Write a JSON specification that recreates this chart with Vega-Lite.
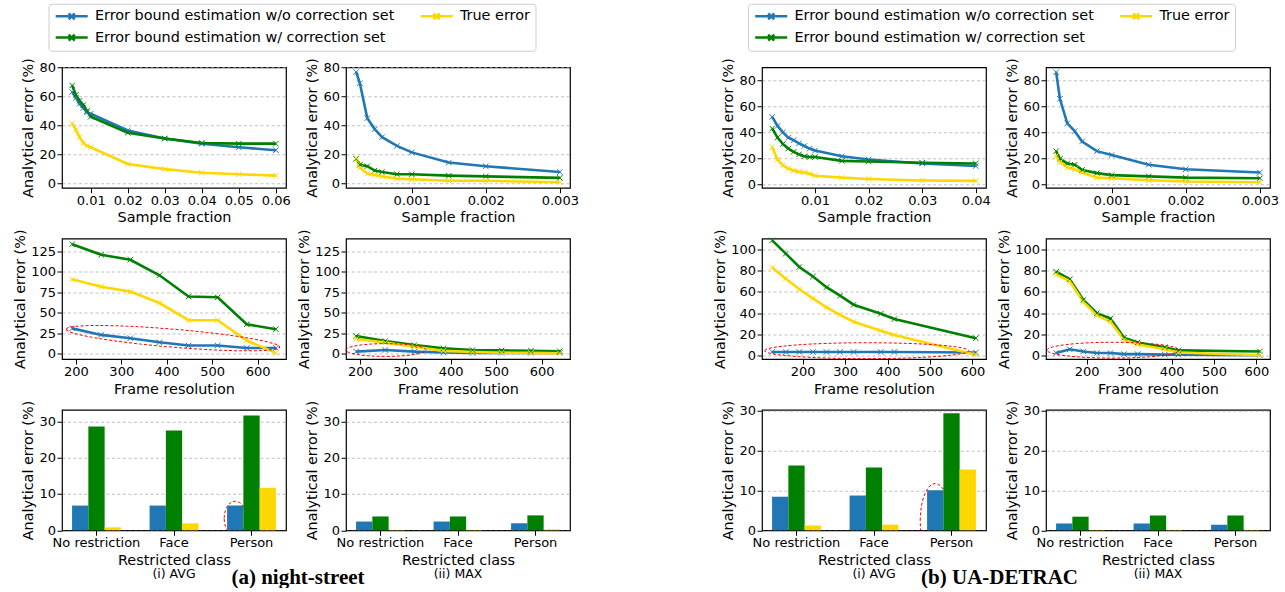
{
"$schema": "https://vega.github.io/schema/vega-lite/v6.json",
"background": "#ffffff",
"padding": {"left": 11, "top": 2, "right": 5, "bottom": 0},
"columns": 5,
"spacing": {"row": 50.25, "column": 60},
"bounds": "flush",
"align": "each",
"resolve": {"scale": {"color": "independent"}, "legend": {"color": "independent"}},
"datasets": {
"a1": [
{"s":"wo","x":0.005,"y":63},{"s":"wo","x":0.006,"y":59},{"s":"wo","x":0.007,"y":55},{"s":"wo","x":0.008,"y":52},{"s":"wo","x":0.009,"y":49},{"s":"wo","x":0.01,"y":48},{"s":"wo","x":0.02,"y":36.5},{"s":"wo","x":0.03,"y":31},{"s":"wo","x":0.04,"y":27.5},{"s":"wo","x":0.05,"y":25},{"s":"wo","x":0.06,"y":23},
{"s":"w","x":0.005,"y":67.5},{"s":"w","x":0.006,"y":61},{"s":"w","x":0.007,"y":57},{"s":"w","x":0.008,"y":54},{"s":"w","x":0.009,"y":50},{"s":"w","x":0.01,"y":46},{"s":"w","x":0.02,"y":35},{"s":"w","x":0.03,"y":31},{"s":"w","x":0.04,"y":28},{"s":"w","x":0.05,"y":27.5},{"s":"w","x":0.06,"y":27.5},
{"s":"true","x":0.005,"y":41.5},{"s":"true","x":0.006,"y":37},{"s":"true","x":0.007,"y":32},{"s":"true","x":0.008,"y":28},{"s":"true","x":0.009,"y":26},{"s":"true","x":0.01,"y":25},{"s":"true","x":0.02,"y":13.5},{"s":"true","x":0.03,"y":10},{"s":"true","x":0.04,"y":7.5},{"s":"true","x":0.05,"y":6.5},{"s":"true","x":0.06,"y":5.5}
],
"a2": [
{"s":"wo","x":0.00025,"y":76.7},{"s":"wo","x":0.0003,"y":69},{"s":"wo","x":0.0004,"y":45},{"s":"wo","x":0.0005,"y":37.5},{"s":"wo","x":0.0006,"y":32},{"s":"wo","x":0.0008,"y":26},{"s":"wo","x":0.001,"y":21.5},{"s":"wo","x":0.0015,"y":14.5},{"s":"wo","x":0.002,"y":12},{"s":"wo","x":0.003,"y":8},
{"s":"w","x":0.00025,"y":17},{"s":"w","x":0.0003,"y":13},{"s":"w","x":0.0004,"y":12},{"s":"w","x":0.0005,"y":9},{"s":"w","x":0.0006,"y":8},{"s":"w","x":0.0008,"y":6.5},{"s":"w","x":0.001,"y":6.5},{"s":"w","x":0.0015,"y":5.5},{"s":"w","x":0.002,"y":5},{"s":"w","x":0.003,"y":4},
{"s":"true","x":0.00025,"y":17.5},{"s":"true","x":0.0003,"y":11},{"s":"true","x":0.0004,"y":7},{"s":"true","x":0.0005,"y":6},{"s":"true","x":0.0006,"y":5},{"s":"true","x":0.0008,"y":3.5},{"s":"true","x":0.001,"y":3},{"s":"true","x":0.0015,"y":2},{"s":"true","x":0.002,"y":2},{"s":"true","x":0.003,"y":1}
],
"a3": [
{"s":"wo","x":192,"y":31},{"s":"wo","x":256,"y":23},{"s":"wo","x":320,"y":19},{"s":"wo","x":384,"y":14},{"s":"wo","x":448,"y":10},{"s":"wo","x":512,"y":10},{"s":"wo","x":576,"y":7},{"s":"wo","x":640,"y":7},
{"s":"w","x":192,"y":134},{"s":"w","x":256,"y":121},{"s":"w","x":320,"y":115},{"s":"w","x":384,"y":96},{"s":"w","x":448,"y":70},{"s":"w","x":512,"y":69},{"s":"w","x":576,"y":36},{"s":"w","x":640,"y":30},
{"s":"true","x":192,"y":91},{"s":"true","x":256,"y":82},{"s":"true","x":320,"y":76},{"s":"true","x":384,"y":62},{"s":"true","x":448,"y":41},{"s":"true","x":512,"y":41},{"s":"true","x":576,"y":16},{"s":"true","x":640,"y":1}
],
"a4": [
{"s":"wo","x":192,"y":2.5},{"s":"wo","x":256,"y":4.5},{"s":"wo","x":320,"y":2.5},{"s":"wo","x":384,"y":1.5},{"s":"wo","x":448,"y":1},{"s":"wo","x":512,"y":1},{"s":"wo","x":576,"y":1},{"s":"wo","x":640,"y":1},
{"s":"w","x":192,"y":21.5},{"s":"w","x":256,"y":15.5},{"s":"w","x":320,"y":10.5},{"s":"w","x":384,"y":6.5},{"s":"w","x":448,"y":4.5},{"s":"w","x":512,"y":4},{"s":"w","x":576,"y":3.5},{"s":"w","x":640,"y":3},
{"s":"true","x":192,"y":18},{"s":"true","x":256,"y":13.5},{"s":"true","x":320,"y":8.5},{"s":"true","x":384,"y":3.5},{"s":"true","x":448,"y":2},{"s":"true","x":512,"y":1.2},{"s":"true","x":576,"y":1},{"s":"true","x":640,"y":0.5}
],
"b1": [
{"s":"wo","x":0.002,"y":52},{"s":"wo","x":0.003,"y":45},{"s":"wo","x":0.004,"y":40},{"s":"wo","x":0.005,"y":36},{"s":"wo","x":0.006,"y":34},{"s":"wo","x":0.007,"y":31.5},{"s":"wo","x":0.008,"y":29.5},{"s":"wo","x":0.009,"y":27.5},{"s":"wo","x":0.01,"y":26},{"s":"wo","x":0.015,"y":21.5},{"s":"wo","x":0.02,"y":19},{"s":"wo","x":0.03,"y":16},{"s":"wo","x":0.04,"y":14},
{"s":"w","x":0.002,"y":43},{"s":"w","x":0.003,"y":36},{"s":"w","x":0.004,"y":31},{"s":"w","x":0.005,"y":27.5},{"s":"w","x":0.006,"y":25},{"s":"w","x":0.007,"y":23},{"s":"w","x":0.008,"y":21.5},{"s":"w","x":0.009,"y":21},{"s":"w","x":0.01,"y":21},{"s":"w","x":0.015,"y":18},{"s":"w","x":0.02,"y":17.5},{"s":"w","x":0.03,"y":16.5},{"s":"w","x":0.04,"y":16},
{"s":"true","x":0.002,"y":28.5},{"s":"true","x":0.003,"y":19},{"s":"true","x":0.004,"y":14.5},{"s":"true","x":0.005,"y":12},{"s":"true","x":0.006,"y":10.5},{"s":"true","x":0.007,"y":9.5},{"s":"true","x":0.008,"y":9},{"s":"true","x":0.009,"y":8},{"s":"true","x":0.01,"y":6.5},{"s":"true","x":0.015,"y":5},{"s":"true","x":0.02,"y":4},{"s":"true","x":0.03,"y":2.8},{"s":"true","x":0.04,"y":2.5}
],
"b2": [
{"s":"wo","x":0.00025,"y":86.5},{"s":"wo","x":0.0003,"y":66},{"s":"wo","x":0.0004,"y":47},{"s":"wo","x":0.0005,"y":41},{"s":"wo","x":0.0006,"y":33},{"s":"wo","x":0.0008,"y":25.5},{"s":"wo","x":0.001,"y":22.5},{"s":"wo","x":0.0015,"y":15},{"s":"wo","x":0.002,"y":11.5},{"s":"wo","x":0.003,"y":9},
{"s":"w","x":0.00025,"y":25.5},{"s":"w","x":0.0003,"y":19.5},{"s":"w","x":0.0004,"y":16},{"s":"w","x":0.0005,"y":15},{"s":"w","x":0.0006,"y":11},{"s":"w","x":0.0008,"y":8.5},{"s":"w","x":0.001,"y":7},{"s":"w","x":0.0015,"y":6},{"s":"w","x":0.002,"y":5},{"s":"w","x":0.003,"y":4.5},
{"s":"true","x":0.00025,"y":22},{"s":"true","x":0.0003,"y":17},{"s":"true","x":0.0004,"y":13},{"s":"true","x":0.0005,"y":11.5},{"s":"true","x":0.0006,"y":9},{"s":"true","x":0.0008,"y":5},{"s":"true","x":0.001,"y":4.5},{"s":"true","x":0.0015,"y":3},{"s":"true","x":0.002,"y":2},{"s":"true","x":0.003,"y":1.5}
],
"b3": [
{"s":"wo","x":128,"y":3.5},{"s":"wo","x":160,"y":3.5},{"s":"wo","x":192,"y":3.5},{"s":"wo","x":224,"y":3.5},{"s":"wo","x":256,"y":3.5},{"s":"wo","x":288,"y":3.5},{"s":"wo","x":320,"y":3.5},{"s":"wo","x":384,"y":3.5},{"s":"wo","x":416,"y":3.5},{"s":"wo","x":608,"y":3},
{"s":"w","x":128,"y":108.5},{"s":"w","x":160,"y":96},{"s":"w","x":192,"y":83.5},{"s":"w","x":224,"y":74.5},{"s":"w","x":256,"y":64.5},{"s":"w","x":288,"y":56.5},{"s":"w","x":320,"y":48},{"s":"w","x":384,"y":39.5},{"s":"w","x":416,"y":34.5},{"s":"w","x":608,"y":16.5},
{"s":"true","x":128,"y":83},{"s":"true","x":160,"y":72.5},{"s":"true","x":192,"y":62.5},{"s":"true","x":224,"y":54},{"s":"true","x":256,"y":45.5},{"s":"true","x":288,"y":38.5},{"s":"true","x":320,"y":32},{"s":"true","x":384,"y":23.5},{"s":"true","x":416,"y":19.5},{"s":"true","x":608,"y":1}
],
"b4": [
{"s":"wo","x":128,"y":2.5},{"s":"wo","x":160,"y":6},{"s":"wo","x":192,"y":4},{"s":"wo","x":224,"y":2.5},{"s":"wo","x":256,"y":2.5},{"s":"wo","x":288,"y":1.5},{"s":"wo","x":320,"y":1.5},{"s":"wo","x":384,"y":1},{"s":"wo","x":416,"y":1},{"s":"wo","x":608,"y":0.5},
{"s":"w","x":128,"y":79},{"s":"w","x":160,"y":72},{"s":"w","x":192,"y":52.5},{"s":"w","x":224,"y":40},{"s":"w","x":256,"y":35},{"s":"w","x":288,"y":17},{"s":"w","x":320,"y":12.5},{"s":"w","x":384,"y":8},{"s":"w","x":416,"y":5},{"s":"w","x":608,"y":4},
{"s":"true","x":128,"y":76.5},{"s":"true","x":160,"y":70},{"s":"true","x":192,"y":50.5},{"s":"true","x":224,"y":38},{"s":"true","x":256,"y":32},{"s":"true","x":288,"y":15},{"s":"true","x":320,"y":10.5},{"s":"true","x":384,"y":6},{"s":"true","x":416,"y":3},{"s":"true","x":608,"y":0.5}
],
"a5": [{"c":"No restriction","s":"wo","v":6.8},{"c":"No restriction","s":"w","v":28.6},{"c":"No restriction","s":"true","v":0.8},{"c":"Face","s":"wo","v":6.8},{"c":"Face","s":"w","v":27.5},{"c":"Face","s":"true","v":1.9},{"c":"Person","s":"wo","v":6.8},{"c":"Person","s":"w","v":31.6},{"c":"Person","s":"true","v":11.7}],
"a6": [{"c":"No restriction","s":"wo","v":2.4},{"c":"No restriction","s":"w","v":3.8},{"c":"No restriction","s":"true","v":0.1},{"c":"Face","s":"wo","v":2.4},{"c":"Face","s":"w","v":3.8},{"c":"Face","s":"true","v":0.1},{"c":"Person","s":"wo","v":1.9},{"c":"Person","s":"w","v":4.1},{"c":"Person","s":"true","v":0.25}],
"b5": [{"c":"No restriction","s":"wo","v":8.4},{"c":"No restriction","s":"w","v":16.2},{"c":"No restriction","s":"true","v":1.2},{"c":"Face","s":"wo","v":8.7},{"c":"Face","s":"w","v":15.7},{"c":"Face","s":"true","v":1.4},{"c":"Person","s":"wo","v":10.0},{"c":"Person","s":"w","v":29.3},{"c":"Person","s":"true","v":15.2}],
"b6": [{"c":"No restriction","s":"wo","v":1.7},{"c":"No restriction","s":"w","v":3.4},{"c":"No restriction","s":"true","v":0.1},{"c":"Face","s":"wo","v":1.7},{"c":"Face","s":"w","v":3.7},{"c":"Face","s":"true","v":0.1},{"c":"Person","s":"wo","v":1.4},{"c":"Person","s":"w","v":3.7},{"c":"Person","s":"true","v":0.1}]
},
"concat": [
{"width": 224, "height": 1, "view": {"stroke": null}, "data": {"values": [{}]}, "mark": "text", "encoding": {"text": {"value": ""}}},
{"width": 224, "height": 1, "view": {"stroke": null}, "data": {"values": [{}]}, "mark": "text", "encoding": {"text": {"value": ""}}},
{"width": 72, "height": 1, "view": {"stroke": null}, "data": {"values": [{}]}, "mark": "text", "encoding": {"text": {"value": ""}}},
{"width": 224, "height": 1, "view": {"stroke": null}, "data": {"values": [{}]}, "mark": "text", "encoding": {"text": {"value": ""}}},
{"width": 224, "height": 1, "view": {"stroke": null}, "data": {"values": [{}]}, "mark": "text", "encoding": {"text": {"value": ""}}},

{"width": 224, "height": 120.5, "data": {"name": "a1"},
 "encoding": {
  "x": {"field": "x", "type": "quantitative", "scale": {"domain": [0.00225, 0.06275], "nice": false, "zero": false}, "axis": {"title": "Sample fraction", "values": [0.01, 0.02, 0.03, 0.04, 0.05, 0.06], "format": "~g"}},
  "y": {"field": "y", "type": "quantitative", "scale": {"domain": [-2.8, 80], "nice": false, "zero": false}, "axis": {"title": "Analytical error (%)", "values": [0, 20, 40, 60, 80]}}},
 "layer": [
  {"mark": {"type": "line", "strokeWidth": 2.6}, "encoding": {"color": {"field": "s", "type": "nominal", "scale": {"domain": ["wo", "w", "true"], "range": ["#1f77b4", "#008000", "#ffd700"]},
    "legend": {"orient": "none", "legendX": -13.5, "legendY": -63.5, "columns": 2, "title": null, "labelExpr": "datum.label == 'wo' ? 'Error bound estimation w/o correction set' : datum.label == 'w' ? 'Error bound estimation w/ correction set' : 'True error'", "symbolType": "M-1,0L5.4,0M1.6,-0.6L2.8,0.6M1.6,0.6L2.8,-0.6", "symbolSize": 100, "symbolStrokeWidth": 2.5, "symbolOpacity": 1, "labelFont": "DejaVu Sans", "labelFontSize": 14.4, "labelColor": "#000000", "labelLimit": 600, "labelOffset": 27, "columnPadding": 21, "rowPadding": 4.6, "padding": 5, "strokeColor": "#cccccc", "fillColor": "#ffffff", "cornerRadius": 3}}}},
  {"mark": {"type": "point", "shape": "M-1,-1L1,1M-1,1L1,-1", "size": 30, "filled": false, "strokeWidth": 1, "opacity": 1}, "encoding": {"color": {"field": "s", "type": "nominal", "scale": {"domain": ["wo", "w", "true"], "range": ["#1f77b4", "#008000", "#ffd700"]}, "legend": null}}}
 ]},
{"width": 224, "height": 120.5, "data": {"name": "a2"},
 "encoding": {
  "x": {"field": "x", "type": "quantitative", "scale": {"domain": [0.0001125, 0.0031375], "nice": false, "zero": false}, "axis": {"title": "Sample fraction", "values": [0.001, 0.002, 0.003], "format": "~g"}},
  "y": {"field": "y", "type": "quantitative", "scale": {"domain": [-2.8, 80], "nice": false, "zero": false}, "axis": {"title": "Analytical error (%)", "values": [0, 20, 40, 60, 80]}}},
 "layer": [
  {"mark": {"type": "line", "strokeWidth": 2.6}, "encoding": {"color": {"field": "s", "type": "nominal", "scale": {"domain": ["wo", "w", "true"], "range": ["#1f77b4", "#008000", "#ffd700"]}, "legend": null}}},
  {"mark": {"type": "point", "shape": "M-1,-1L1,1M-1,1L1,-1", "size": 30, "filled": false, "strokeWidth": 1, "opacity": 1}, "encoding": {"color": {"field": "s", "type": "nominal", "scale": {"domain": ["wo", "w", "true"], "range": ["#1f77b4", "#008000", "#ffd700"]}, "legend": null}}}
 ]},
{"width": 72, "height": 120.5, "view": {"stroke": null}, "data": {"values": [{}]}, "mark": "text", "encoding": {"text": {"value": ""}}},
{"width": 224, "height": 120.5, "data": {"name": "b1"},
 "encoding": {
  "x": {"field": "x", "type": "quantitative", "scale": {"domain": [0.0001, 0.0419], "nice": false, "zero": false}, "axis": {"title": "Sample fraction", "values": [0.01, 0.02, 0.03, 0.04], "format": "~g"}},
  "y": {"field": "y", "type": "quantitative", "scale": {"domain": [-2.8, 90.4], "nice": false, "zero": false}, "axis": {"title": "Analytical error (%)", "values": [0, 20, 40, 60, 80]}}},
 "layer": [
  {"mark": {"type": "line", "strokeWidth": 2.6}, "encoding": {"color": {"field": "s", "type": "nominal", "scale": {"domain": ["wo", "w", "true"], "range": ["#1f77b4", "#008000", "#ffd700"]},
    "legend": {"orient": "none", "legendX": -14, "legendY": -63.5, "columns": 2, "title": null, "labelExpr": "datum.label == 'wo' ? 'Error bound estimation w/o correction set' : datum.label == 'w' ? 'Error bound estimation w/ correction set' : 'True error'", "symbolType": "M-1,0L5.4,0M1.6,-0.6L2.8,0.6M1.6,0.6L2.8,-0.6", "symbolSize": 100, "symbolStrokeWidth": 2.5, "symbolOpacity": 1, "labelFont": "DejaVu Sans", "labelFontSize": 14.4, "labelColor": "#000000", "labelLimit": 600, "labelOffset": 27, "columnPadding": 21, "rowPadding": 4.6, "padding": 5, "strokeColor": "#cccccc", "fillColor": "#ffffff", "cornerRadius": 3}}}},
  {"mark": {"type": "point", "shape": "M-1,-1L1,1M-1,1L1,-1", "size": 30, "filled": false, "strokeWidth": 1, "opacity": 1}, "encoding": {"color": {"field": "s", "type": "nominal", "scale": {"domain": ["wo", "w", "true"], "range": ["#1f77b4", "#008000", "#ffd700"]}, "legend": null}}}
 ]},
{"width": 224, "height": 120.5, "data": {"name": "b2"},
 "encoding": {
  "x": {"field": "x", "type": "quantitative", "scale": {"domain": [0.0001125, 0.0031375], "nice": false, "zero": false}, "axis": {"title": "Sample fraction", "values": [0.001, 0.002, 0.003], "format": "~g"}},
  "y": {"field": "y", "type": "quantitative", "scale": {"domain": [-2.8, 90.4], "nice": false, "zero": false}, "axis": {"title": "Analytical error (%)", "values": [0, 20, 40, 60, 80]}}},
 "layer": [
  {"mark": {"type": "line", "strokeWidth": 2.6}, "encoding": {"color": {"field": "s", "type": "nominal", "scale": {"domain": ["wo", "w", "true"], "range": ["#1f77b4", "#008000", "#ffd700"]}, "legend": null}}},
  {"mark": {"type": "point", "shape": "M-1,-1L1,1M-1,1L1,-1", "size": 30, "filled": false, "strokeWidth": 1, "opacity": 1}, "encoding": {"color": {"field": "s", "type": "nominal", "scale": {"domain": ["wo", "w", "true"], "range": ["#1f77b4", "#008000", "#ffd700"]}, "legend": null}}}
 ]},

{"width": 224, "height": 120.5, "data": {"name": "a3"},
 "encoding": {
  "x": {"field": "x", "type": "quantitative", "scale": {"domain": [169.6, 662.4], "nice": false, "zero": false}, "axis": {"title": "Frame resolution", "values": [200, 300, 400, 500, 600]}},
  "y": {"field": "y", "type": "quantitative", "scale": {"domain": [-6.5, 141], "nice": false, "zero": false}, "axis": {"title": "Analytical error (%)", "values": [0, 25, 50, 75, 100, 125]}}},
 "layer": [
  {"mark": {"type": "line", "strokeWidth": 2.6}, "encoding": {"color": {"field": "s", "type": "nominal", "scale": {"domain": ["wo", "w", "true"], "range": ["#1f77b4", "#008000", "#ffd700"]}, "legend": null}}},
  {"mark": {"type": "point", "shape": "M-1,-1L1,1M-1,1L1,-1", "size": 30, "filled": false, "strokeWidth": 1, "opacity": 1}, "encoding": {"color": {"field": "s", "type": "nominal", "scale": {"domain": ["wo", "w", "true"], "range": ["#1f77b4", "#008000", "#ffd700"]}, "legend": null}}},
  {"data": {"values": [{"x": 413.8, "y": 19}]}, "mark": {"type": "point", "shape": "M-1,0C-1,-0.0464 -0.5523,-0.084 0,-0.084C0.5523,-0.084 1,-0.0464 1,0C1,0.0464 0.5523,0.084 0,0.084C-0.5523,0.084 -1,0.0464 -1,0Z", "size": 45796, "angle": 4.8, "filled": false, "stroke": "#ff0000", "strokeWidth": 1, "strokeDash": [3, 2], "opacity": 1}}
 ]},
{"width": 224, "height": 120.5, "data": {"name": "a4"},
 "encoding": {
  "x": {"field": "x", "type": "quantitative", "scale": {"domain": [169.6, 662.4], "nice": false, "zero": false}, "axis": {"title": "Frame resolution", "values": [200, 300, 400, 500, 600]}},
  "y": {"field": "y", "type": "quantitative", "scale": {"domain": [-6.5, 141], "nice": false, "zero": false}, "axis": {"title": "Analytical error (%)", "values": [0, 25, 50, 75, 100, 125]}}},
 "layer": [
  {"mark": {"type": "line", "strokeWidth": 2.6}, "encoding": {"color": {"field": "s", "type": "nominal", "scale": {"domain": ["wo", "w", "true"], "range": ["#1f77b4", "#008000", "#ffd700"]}, "legend": null}}},
  {"mark": {"type": "point", "shape": "M-1,-1L1,1M-1,1L1,-1", "size": 30, "filled": false, "strokeWidth": 1, "opacity": 1}, "encoding": {"color": {"field": "s", "type": "nominal", "scale": {"domain": ["wo", "w", "true"], "range": ["#1f77b4", "#008000", "#ffd700"]}, "legend": null}}},
  {"data": {"values": [{"x": 257, "y": 4.5}]}, "mark": {"type": "point", "shape": "M-1,0C-1,-0.0884 -0.5523,-0.16 0,-0.16C0.5523,-0.16 1,-0.0884 1,0C1,0.0884 0.5523,0.16 0,0.16C-0.5523,0.16 -1,0.0884 -1,0Z", "size": 6400, "filled": false, "stroke": "#ff0000", "strokeWidth": 1, "strokeDash": [3, 2], "opacity": 1}}
 ]},
{"width": 72, "height": 120.5, "view": {"stroke": null}, "data": {"values": [{}]}, "mark": "text", "encoding": {"text": {"value": ""}}},
{"width": 224, "height": 120.5, "data": {"name": "b3"},
 "encoding": {
  "x": {"field": "x", "type": "quantitative", "scale": {"domain": [104, 632], "nice": false, "zero": false}, "axis": {"title": "Frame resolution", "values": [200, 300, 400, 500, 600]}},
  "y": {"field": "y", "type": "quantitative", "scale": {"domain": [-3.1, 110.3], "nice": false, "zero": false}, "axis": {"title": "Analytical error (%)", "values": [0, 20, 40, 60, 80, 100]}}},
 "layer": [
  {"mark": {"type": "line", "strokeWidth": 2.6}, "encoding": {"color": {"field": "s", "type": "nominal", "scale": {"domain": ["wo", "w", "true"], "range": ["#1f77b4", "#008000", "#ffd700"]}, "legend": null}}},
  {"mark": {"type": "point", "shape": "M-1,-1L1,1M-1,1L1,-1", "size": 30, "filled": false, "strokeWidth": 1, "opacity": 1}, "encoding": {"color": {"field": "s", "type": "nominal", "scale": {"domain": ["wo", "w", "true"], "range": ["#1f77b4", "#008000", "#ffd700"]}, "legend": null}}},
  {"data": {"values": [{"x": 350.8, "y": 4.7}]}, "mark": {"type": "point", "shape": "M-1,0C-1,-0.0431 -0.5523,-0.078 0,-0.078C0.5523,-0.078 1,-0.0431 1,0C1,0.0431 0.5523,0.078 0,0.078C-0.5523,0.078 -1,0.0431 -1,0Z", "size": 41616, "filled": false, "stroke": "#ff0000", "strokeWidth": 1, "strokeDash": [3, 2], "opacity": 1}}
 ]},
{"width": 224, "height": 120.5, "data": {"name": "b4"},
 "encoding": {
  "x": {"field": "x", "type": "quantitative", "scale": {"domain": [104, 632], "nice": false, "zero": false}, "axis": {"title": "Frame resolution", "values": [200, 300, 400, 500, 600]}},
  "y": {"field": "y", "type": "quantitative", "scale": {"domain": [-3.1, 110.3], "nice": false, "zero": false}, "axis": {"title": "Analytical error (%)", "values": [0, 20, 40, 60, 80, 100]}}},
 "layer": [
  {"mark": {"type": "line", "strokeWidth": 2.6}, "encoding": {"color": {"field": "s", "type": "nominal", "scale": {"domain": ["wo", "w", "true"], "range": ["#1f77b4", "#008000", "#ffd700"]}, "legend": null}}},
  {"mark": {"type": "point", "shape": "M-1,-1L1,1M-1,1L1,-1", "size": 30, "filled": false, "strokeWidth": 1, "opacity": 1}, "encoding": {"color": {"field": "s", "type": "nominal", "scale": {"domain": ["wo", "w", "true"], "range": ["#1f77b4", "#008000", "#ffd700"]}, "legend": null}}},
  {"data": {"values": [{"x": 262, "y": 5.2}]}, "mark": {"type": "point", "shape": "M-1,0C-1,-0.0663 -0.5523,-0.12 0,-0.12C0.5523,-0.12 1,-0.0663 1,0C1,0.0663 0.5523,0.12 0,0.12C-0.5523,0.12 -1,0.0663 -1,0Z", "size": 17424, "filled": false, "stroke": "#ff0000", "strokeWidth": 1, "strokeDash": [3, 2], "opacity": 1}}
 ]},

{"width": 224, "height": 120.5,
 "title": {"text": "(i) AVG", "orient": "bottom", "offset": 1.5, "font": "DejaVu Sans", "fontSize": 12.5, "fontWeight": "normal", "color": "#000000", "anchor": "middle"},
 "encoding": {
  "x": {"field": "c", "type": "nominal", "scale": {"domain": ["No restriction", "Face", "Person"], "paddingInner": 0.37, "paddingOuter": 0.13}, "axis": {"title": "Restricted class", "labelAngle": 0, "bandPosition": 0.5}},
  "xOffset": {"field": "s", "type": "nominal", "scale": {"domain": ["wo", "w", "true"], "paddingInner": 0, "paddingOuter": 0}},
  "y": {"field": "v", "type": "quantitative", "scale": {"domain": [0, 33.2], "nice": false, "zero": false}, "axis": {"title": "Analytical error (%)", "values": [0, 10, 20, 30]}}},
 "layer": [
  {"data": {"values": [{"c": "Person", "s": "wo", "v": 3.3}]}, "mark": {"type": "point", "shape": "M-0.65,0C-0.65,-0.5523 -0.359,-1 0,-1C0.359,-1 0.65,-0.5523 0.65,0C0.65,0.5523 0.359,1 0,1C-0.359,1 -0.65,0.5523 -0.65,0Z", "size": 1156, "filled": false, "stroke": "#ff0000", "strokeWidth": 1, "strokeDash": [3, 2], "opacity": 1, "clip": true}},
  {"data": {"name": "a5"}, "mark": {"type": "bar"}, "encoding": {"color": {"field": "s", "type": "nominal", "scale": {"domain": ["wo", "w", "true"], "range": ["#1f77b4", "#008000", "#ffd700"]}, "legend": null}}}
 ]},
{"width": 224, "height": 120.5,
 "title": {"text": "(ii) MAX", "orient": "bottom", "offset": 1.5, "font": "DejaVu Sans", "fontSize": 12.5, "fontWeight": "normal", "color": "#000000", "anchor": "middle"},
 "data": {"name": "a6"},
 "mark": {"type": "bar"},
 "encoding": {
  "x": {"field": "c", "type": "nominal", "scale": {"domain": ["No restriction", "Face", "Person"], "paddingInner": 0.37, "paddingOuter": 0.13}, "axis": {"title": "Restricted class", "labelAngle": 0, "bandPosition": 0.5}},
  "xOffset": {"field": "s", "type": "nominal", "scale": {"domain": ["wo", "w", "true"], "paddingInner": 0, "paddingOuter": 0}},
  "y": {"field": "v", "type": "quantitative", "scale": {"domain": [0, 33.2], "nice": false, "zero": false}, "axis": {"title": "Analytical error (%)", "values": [0, 10, 20, 30]}},
  "color": {"field": "s", "type": "nominal", "scale": {"domain": ["wo", "w", "true"], "range": ["#1f77b4", "#008000", "#ffd700"]}, "legend": null}}},
{"width": 72, "height": 120.5, "view": {"stroke": null}, "data": {"values": [{}]}, "mark": "text", "encoding": {"text": {"value": ""}}},
{"width": 224, "height": 120.5,
 "title": {"text": "(i) AVG", "orient": "bottom", "offset": 1.5, "font": "DejaVu Sans", "fontSize": 12.5, "fontWeight": "normal", "color": "#000000", "anchor": "middle"},
 "encoding": {
  "x": {"field": "c", "type": "nominal", "scale": {"domain": ["No restriction", "Face", "Person"], "paddingInner": 0.37, "paddingOuter": 0.13}, "axis": {"title": "Restricted class", "labelAngle": 0, "bandPosition": 0.5}},
  "xOffset": {"field": "s", "type": "nominal", "scale": {"domain": ["wo", "w", "true"], "paddingInner": 0, "paddingOuter": 0}},
  "y": {"field": "v", "type": "quantitative", "scale": {"domain": [0, 30.2], "nice": false, "zero": false}, "axis": {"title": "Analytical error (%)", "values": [0, 10, 20, 30]}}},
 "layer": [
  {"data": {"values": [{"c": "Person", "s": "wo", "v": 2.4}]}, "mark": {"type": "point", "shape": "M-0.405,0C-0.405,-0.5523 -0.2237,-1 0,-1C0.2237,-1 0.405,-0.5523 0.405,0C0.405,0.5523 0.2237,1 0,1C-0.2237,1 -0.405,0.5523 -0.405,0Z", "size": 5476, "filled": false, "stroke": "#ff0000", "strokeWidth": 1, "strokeDash": [3, 2], "opacity": 1, "clip": true}},
  {"data": {"name": "b5"}, "mark": {"type": "bar"}, "encoding": {"color": {"field": "s", "type": "nominal", "scale": {"domain": ["wo", "w", "true"], "range": ["#1f77b4", "#008000", "#ffd700"]}, "legend": null}}}
 ]},
{"width": 224, "height": 120.5,
 "title": {"text": "(ii) MAX", "orient": "bottom", "offset": 1.5, "font": "DejaVu Sans", "fontSize": 12.5, "fontWeight": "normal", "color": "#000000", "anchor": "middle"},
 "data": {"name": "b6"},
 "mark": {"type": "bar"},
 "encoding": {
  "x": {"field": "c", "type": "nominal", "scale": {"domain": ["No restriction", "Face", "Person"], "paddingInner": 0.37, "paddingOuter": 0.13}, "axis": {"title": "Restricted class", "labelAngle": 0, "bandPosition": 0.5}},
  "xOffset": {"field": "s", "type": "nominal", "scale": {"domain": ["wo", "w", "true"], "paddingInner": 0, "paddingOuter": 0}},
  "y": {"field": "v", "type": "quantitative", "scale": {"domain": [0, 30.2], "nice": false, "zero": false}, "axis": {"title": "Analytical error (%)", "values": [0, 10, 20, 30]}},
  "color": {"field": "s", "type": "nominal", "scale": {"domain": ["wo", "w", "true"], "range": ["#1f77b4", "#008000", "#ffd700"]}, "legend": null}}},

{"width": 224, "height": 1, "view": {"stroke": null}, "data": {"values": [{}]}, "mark": "text", "encoding": {"text": {"value": ""}},
 "title": {"text": "(a) night-street", "orient": "top", "frame": "group", "offset": -12.3, "dx": 124, "font": "Liberation Serif", "fontSize": 21, "fontWeight": "bold", "color": "#000000", "anchor": "middle"}},
{"width": 224, "height": 1, "view": {"stroke": null}, "data": {"values": [{}]}, "mark": "text", "encoding": {"text": {"value": ""}}},
{"width": 72, "height": 1, "view": {"stroke": null}, "data": {"values": [{}]}, "mark": "text", "encoding": {"text": {"value": ""}}},
{"width": 224, "height": 1, "view": {"stroke": null}, "data": {"values": [{}]}, "mark": "text", "encoding": {"text": {"value": ""}},
 "title": {"text": "(b) UA-DETRAC", "orient": "top", "frame": "group", "offset": -12.3, "dx": 125.5, "font": "Liberation Serif", "fontSize": 21, "fontWeight": "bold", "color": "#000000", "anchor": "middle"}}
],
"config": {
  "font": "DejaVu Sans",
  "view": {"stroke": "#000000", "strokeWidth": 1.2},
  "axis": {"labelFont": "DejaVu Sans", "labelFontSize": 13, "labelColor": "#000000", "titleFont": "DejaVu Sans", "titleFontSize": 14.4, "titleFontWeight": "normal", "titleColor": "#000000", "tickColor": "#000000", "tickSize": 5, "tickWidth": 1, "domain": false, "labelPadding": 1.5, "titlePadding": 3.5, "labelFlush": false, "labelOverlap": false, "gridColor": "#b0b0b0", "gridDash": [3, 2.5], "gridWidth": 0.8},
  "axisX": {"grid": false},
  "axisY": {"grid": true}
}
}
